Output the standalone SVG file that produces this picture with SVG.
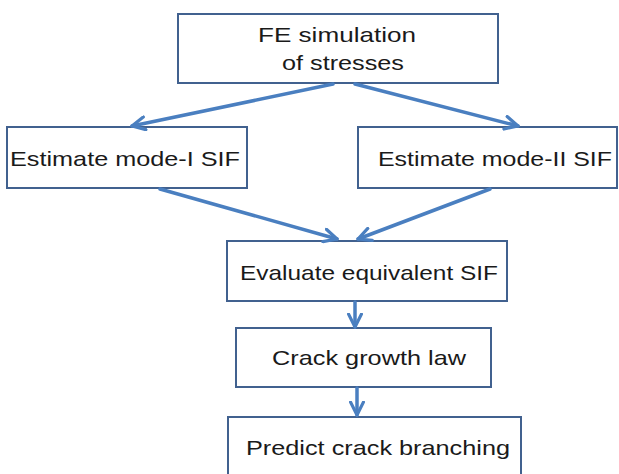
<svg xmlns="http://www.w3.org/2000/svg" width="619" height="474" viewBox="0 0 619 474">
<style>
.box{fill:#ffffff;stroke:#41618f;stroke-width:2}
.t{font-family:"Liberation Sans",Arial,sans-serif;font-size:21px;fill:#1a1a1a}
.c{fill:none;stroke:#4a7fc0;stroke-width:3.5;stroke-linecap:round}
</style>
<defs>
<marker id="ah" viewBox="0 0 10 10" refX="9" refY="5" markerWidth="4.6" markerHeight="4.6" orient="auto" markerUnits="strokeWidth">
<path d="M1,1 L9,5 L1,9" fill="none" stroke="#4a7fc0" stroke-width="2" stroke-linecap="round" stroke-linejoin="round"/>
</marker>
</defs>
<rect width="619" height="474" fill="#ffffff"/>
<g id="n1"><rect class="box" x="178" y="14" width="320" height="69"/>
<text class="t" x="258" y="42" textLength="158" lengthAdjust="spacingAndGlyphs">FE simulation</text>
<text class="t" x="282" y="70" textLength="122" lengthAdjust="spacingAndGlyphs">of stresses</text></g>
<g id="n2"><rect class="box" x="7" y="127" width="240" height="61"/>
<text class="t" x="10" y="166" textLength="230" lengthAdjust="spacingAndGlyphs">Estimate mode-I SIF</text></g>
<g id="n3"><rect class="box" x="358" y="127" width="259" height="61"/>
<text class="t" x="378" y="166" textLength="234" lengthAdjust="spacingAndGlyphs">Estimate mode-II SIF</text></g>
<g id="n4"><rect class="box" x="227" y="241" width="280" height="60"/>
<text class="t" x="240" y="280" textLength="258" lengthAdjust="spacingAndGlyphs">Evaluate equivalent SIF</text></g>
<g id="n5"><rect class="box" x="236" y="328" width="255" height="59"/>
<text class="t" x="272" y="365" textLength="194" lengthAdjust="spacingAndGlyphs">Crack growth law</text></g>
<g id="n6"><rect class="box" x="228" y="417" width="293" height="70"/>
<text class="t" x="246" y="455" textLength="264" lengthAdjust="spacingAndGlyphs">Predict crack branching</text></g>
<g id="connectors">
<line class="c" x1="333" y1="84" x2="132" y2="126" marker-end="url(#ah)"/>
<line class="c" x1="355" y1="84" x2="518" y2="126" marker-end="url(#ah)"/>
<line class="c" x1="160" y1="189" x2="337" y2="239" marker-end="url(#ah)"/>
<line class="c" x1="490" y1="189" x2="358" y2="239" marker-end="url(#ah)"/>
<line class="c" x1="355" y1="302" x2="355" y2="327" marker-end="url(#ah)"/>
<line class="c" x1="357" y1="388" x2="357" y2="415" marker-end="url(#ah)"/>
</g>
</svg>
